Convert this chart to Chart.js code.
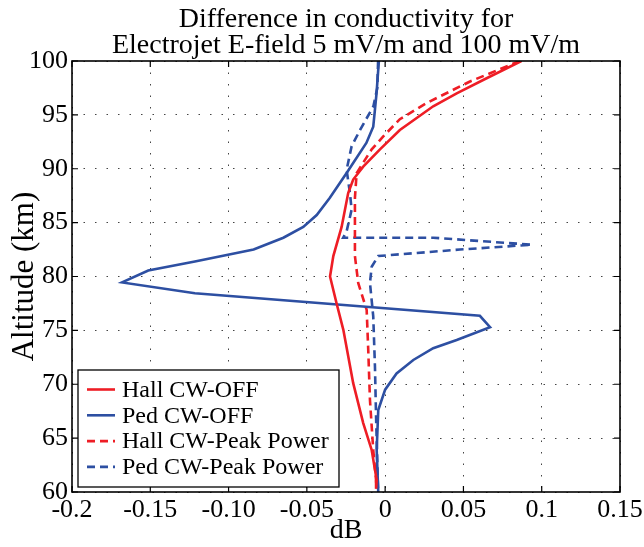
<!DOCTYPE html>
<html>
<head>
<meta charset="utf-8">
<script src="https://cdn.jsdelivr.net/npm/chart.js@4"></script>
<style>
  html, body { margin: 0; padding: 0; background: #fff; }
</style>
</head>
<body>
<canvas id="condChart" width="644" height="547"></canvas>
<script>
// tick labels as printed on the axes
const xTickLabels = ['-0.2', '-0.15', '-0.10', '-0.05', '0', '0.05', '0.1', '0.15'];
const titleLines = ['Difference in conductivity for', 'Electrojet E-field 5 mV/m and 100 mV/m'];
const seriesLabels = ['Hall CW-OFF', 'Ped CW-OFF', 'Hall CW-Peak Power', 'Ped CW-Peak Power'];

// Hall CW-OFF (solid red)
const hallOffDb  = [0.087, 0.0648, 0.0457, 0.0307, 0.0094, -0.0033, -0.014, -0.0204, -0.0236, -0.0278, -0.0331, -0.0352, -0.031, -0.0267, -0.0204, -0.014, -0.0086, -0.0054, -0.0058];
const hallOffAlt = [100, 98.4, 97.0, 95.8, 93.6, 91.8, 90.2, 89.0, 87.75, 84.6, 81.9, 80.0, 77.5, 75.05, 70.1, 66.4, 63.9, 61.1, 60.3];

// Ped CW-OFF (solid blue)
const pedOffDb  = [-0.004, -0.0055, -0.0065, -0.0076, -0.012, -0.0246, -0.0353, -0.0437, -0.0523, -0.065, -0.084, -0.1215, -0.1513, -0.168, -0.1215, 0.0605, 0.067, 0.0457, 0.0307, 0.018, 0.0073, 0.0, -0.0044, -0.0054, -0.0044];
const pedOffAlt = [100, 97, 95.5, 93.9, 92.4, 89.6, 87.3, 85.7, 84.6, 83.6, 82.5, 81.4, 80.55, 79.45, 78.45, 76.35, 75.3, 74.1, 73.35, 72.25, 71.0, 69.5, 67.6, 63.9, 60];

// Hall CW-Peak Power (dashed red)
const hallPeakDb  = [0.086, 0.0542, 0.0265, 0.0094, -0.0012, -0.0086, -0.0182, -0.0193, -0.0193, -0.0193, -0.0172, -0.0118, -0.0108, -0.0097, -0.0076, -0.0058, -0.0055];
const hallPeakAlt = [100, 98.1, 96.1, 94.6, 93.0, 91.8, 89.6, 87.3, 84.0, 81.9, 79.4, 76.9, 73.2, 68.55, 63.9, 61.1, 60.3];

// Ped CW-Peak Power (dashed blue)
const pedPeakDb  = [-0.0045, -0.005, -0.0075, -0.016, -0.0214, -0.0246, -0.0225, -0.0214, -0.0246, -0.0268, 0.0307, 0.0936, 0.0478, -0.0044, -0.0086, -0.0097, -0.0076, -0.0065, -0.0058, -0.0047, -0.0045];
const pedPeakAlt = [100, 97.5, 95.8, 93.6, 92.1, 89.9, 87.75, 86.2, 84.2, 83.6, 83.6, 82.95, 82.5, 81.9, 80.9, 79.4, 76.3, 71.6, 67.0, 61.1, 60.3];

const RED = '#ee1d25';
const BLUE = '#2d4fa2';
const SERIF = '"Liberation Serif", "Times New Roman", serif';

function pts(xs, ys) { return xs.map((x, i) => ({ x: x, y: ys[i] })); }

// title centred over the plot area, not over the whole canvas
const plotTitle = {
  id: 'plotTitle',
  afterDraw(chart) {
    const { ctx, chartArea: a } = chart;
    ctx.save();
    ctx.font = '28px ' + SERIF;
    ctx.fillStyle = '#000';
    ctx.textAlign = 'center';
    ctx.textBaseline = 'alphabetic';
    const cx = (a.left + a.right) / 2;
    ctx.fillText(titleLines[0], cx, a.top - 34.5);
    ctx.fillText(titleLines[1], cx, a.top - 8);
    ctx.restore();
  }
};

// box round the plot with inward tick marks on all four sides
const framePlugin = {
  id: 'frame',
  afterDatasetsDraw(chart) {
    const { ctx, chartArea: a, scales: { x, y } } = chart;
    ctx.save();
    ctx.strokeStyle = '#000';
    ctx.lineWidth = 1.2;
    ctx.beginPath();
    x.ticks.forEach(t => {
      const px = x.getPixelForValue(t.value);
      ctx.moveTo(px, a.bottom); ctx.lineTo(px, a.bottom - 6);
      ctx.moveTo(px, a.top); ctx.lineTo(px, a.top + 6);
    });
    y.ticks.forEach(t => {
      const py = y.getPixelForValue(t.value);
      ctx.moveTo(a.left, py); ctx.lineTo(a.left + 6, py);
      ctx.moveTo(a.right, py); ctx.lineTo(a.right - 6, py);
    });
    ctx.stroke();
    ctx.lineWidth = 1.6;
    ctx.strokeRect(a.left, a.top, a.right - a.left, a.bottom - a.top);
    ctx.restore();
  }
};

// legend box in the lower-left corner of the plot
const insideLegend = {
  id: 'insideLegend',
  afterDraw(chart) {
    const { ctx, chartArea: a } = chart;
    const sets = chart.data.datasets;
    const w = 261, rowH = 25.8, h = 117;
    const left = a.left + 6, top = a.bottom - 5 - h;
    ctx.save();
    ctx.fillStyle = '#fff';
    ctx.fillRect(left, top, w, h);
    ctx.strokeStyle = '#000';
    ctx.lineWidth = 1.3;
    ctx.strokeRect(left, top, w, h);
    ctx.font = '24px ' + SERIF;
    ctx.textBaseline = 'middle';
    sets.forEach((ds, i) => {
      const cy = top + 19.5 + i * rowH;
      ctx.strokeStyle = ds.borderColor;
      ctx.lineWidth = ds.borderWidth;
      ctx.setLineDash(ds.borderDash || []);
      ctx.beginPath();
      ctx.moveTo(left + 9, cy); ctx.lineTo(left + 37, cy);
      ctx.stroke();
      ctx.setLineDash([]);
      ctx.fillStyle = '#000';
      ctx.fillText(ds.label, left + 44, cy + 1);
    });
    ctx.restore();
  }
};

function line(label, xs, ys, color, dash) {
  return {
    label: label, data: pts(xs, ys), showLine: true, borderColor: color, backgroundColor: color,
    borderWidth: 2.6, borderDash: dash, pointRadius: 0, tension: 0, fill: false
  };
}

new Chart(document.getElementById('condChart').getContext('2d'), {
  type: 'scatter',
  data: {
    datasets: [
      line(seriesLabels[0], hallOffDb, hallOffAlt, RED, []),
      line(seriesLabels[1], pedOffDb, pedOffAlt, BLUE, []),
      line(seriesLabels[2], hallPeakDb, hallPeakAlt, RED, [8, 5]),
      line(seriesLabels[3], pedPeakDb, pedPeakAlt, BLUE, [8, 5])
    ]
  },
  options: {
    responsive: false,
    animation: false,
    layout: { padding: { left: 0, right: 24, top: 61, bottom: 0 } },
    plugins: {
      legend: { display: false },
      tooltip: { enabled: false },
      title: { display: false }
    },
    scales: {
      x: {
        type: 'linear', min: -0.2, max: 0.15,
        afterFit: s => { s.height = 55; s.paddingLeft = 0; s.paddingRight = 0; },
        grid: { color: '#444', lineWidth: 1, drawTicks: false },
        border: { display: false, dash: [1.5, 10] },
        ticks: {
          stepSize: 0.05, padding: 3, color: '#000', maxRotation: 0,
          font: { family: SERIF, size: 26 },
          callback: (v, i) => xTickLabels[i]
        },
        title: { display: true, text: 'dB', color: '#000', font: { family: SERIF, size: 28 }, padding: { top: 0, bottom: 0 } }
      },
      y: {
        type: 'linear', min: 60, max: 100,
        afterFit: s => { s.width = 72; s.paddingTop = 0; s.paddingBottom = 0; },
        grid: { color: '#444', lineWidth: 1, drawTicks: false },
        border: { display: false, dash: [1.5, 10] },
        ticks: { stepSize: 5, padding: 4, color: '#000', font: { family: SERIF, size: 26 } },
        title: { display: true, text: 'Altitude (km)', color: '#000', font: { family: SERIF, size: 31 }, padding: { top: 6, bottom: 0 } }
      }
    }
  },
  plugins: [framePlugin, insideLegend, plotTitle]
});
</script>
</body>
</html>
